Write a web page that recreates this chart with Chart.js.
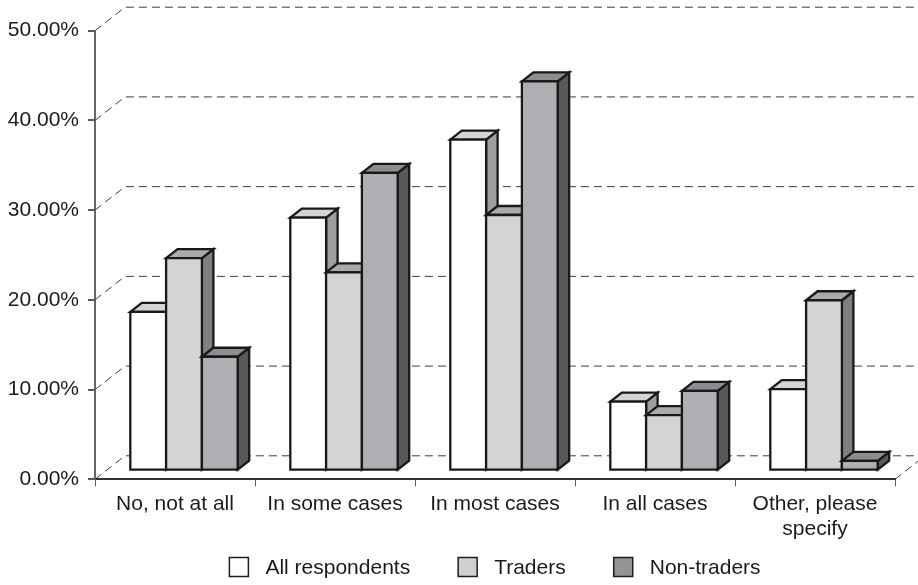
<!DOCTYPE html>
<html>
<head>
<meta charset="utf-8">
<script src="https://cdn.jsdelivr.net/npm/chart.js@4.4.1/dist/chart.umd.min.js"></script>
<style>
  html, body { margin: 0; padding: 0; background: #ffffff; }
  #wrap { width: 918px; height: 585px; }
</style>
</head>
<body>
<div id="wrap"><canvas id="chart" width="918" height="585"></canvas></div>
<script>
// Survey answers, share of respondents (%)
const categories = ['No, not at all', 'In some cases', 'In most cases', 'In all cases', ['Other, please', 'specify']];
const seriesNames = ['All respondents', 'Traders', 'Non-traders'];
const allRespondents = [17.7, 28.2, 36.9, 7.7, 9.1];
const traders = [23.7, 22.1, 28.5, 6.2, 19.0];
const nonTraders = [12.7, 33.2, 43.4, 8.9, 1.1];
const yTicks = [0, 10, 20, 30, 40, 50];

// Oblique projection offsets for the pseudo-3D look
const WALL = { dx: 30, dy: -23.5 };   // back wall relative to the front plane
const FRONT = { dx: 9, dy: -8.6 };    // bar front faces relative to the front plane
const DEPTH = { dx: 11.5, dy: -9 };   // bar thickness

const FONT = '"Liberation Sans", Arial, Helvetica, sans-serif';
const INK = '#1c1a1b';

// front / top / side shading per series, plus legend swatch
const faces = [
  { front: '#ffffff', top: '#d3d4d6', side: '#9d9ea1', swatch: '#ffffff' },
  { front: '#d3d4d6', top: '#a9aaad', side: '#7e7f82', swatch: '#cfd0d2' },
  { front: '#aeafb2', top: '#8c8d90', side: '#58595b', swatch: '#939497' }
];

function poly(ctx, pts, fill) {
  ctx.beginPath();
  ctx.moveTo(pts[0][0], pts[0][1]);
  for (let i = 1; i < pts.length; i++) ctx.lineTo(pts[i][0], pts[i][1]);
  ctx.closePath();
  ctx.fillStyle = fill;
  ctx.fill();
  ctx.stroke();
}

// Back wall grid + extruded bars, drawn in painter's order
const boxes3d = {
  id: 'boxes3d',
  beforeDatasetsDraw(chart) {
    const { ctx, chartArea: a, scales: { y } } = chart;
    ctx.save();
    ctx.strokeStyle = '#3c3c3c';
    ctx.lineWidth = 1;
    ctx.setLineDash([8, 5]);
    yTicks.forEach(v => {
      const py = y.getPixelForValue(v);
      ctx.beginPath();
      ctx.moveTo(a.left, py);
      ctx.lineTo(a.left + WALL.dx, py + WALL.dy);
      ctx.lineTo(chart.width, py + WALL.dy);
      ctx.stroke();
    });
    const p0 = y.getPixelForValue(0);
    ctx.beginPath();
    ctx.moveTo(a.right, p0);
    ctx.lineTo(a.right + WALL.dx, p0 + WALL.dy);
    ctx.stroke();
    ctx.setLineDash([]);

    ctx.lineWidth = 2.3;
    ctx.strokeStyle = '#1a1819';
    ctx.lineJoin = 'miter';
    const metas = chart.data.datasets.map((d, i) => chart.getDatasetMeta(i));
    for (let c = 0; c < categories.length; c++) {
      metas.forEach((m, d) => {
        const el = m.data[c];
        const L = el.x - el.width / 2 + FRONT.dx;
        const R = el.x + el.width / 2 + FRONT.dx;
        const T = el.y + FRONT.dy;
        const B = el.base + FRONT.dy;
        const f = faces[d];
        poly(ctx, [[R, T], [R + DEPTH.dx, T + DEPTH.dy], [R + DEPTH.dx, B + DEPTH.dy], [R, B]], f.side);
        poly(ctx, [[L, T], [L + DEPTH.dx, T + DEPTH.dy], [R + DEPTH.dx, T + DEPTH.dy], [R, T]], f.top);
        poly(ctx, [[L, T], [R, T], [R, B], [L, B]], f.front);
      });
    }
    ctx.restore();
    return false;
  }
};

// Single-row legend under the category labels
const legendRow = {
  id: 'legendRow',
  afterDraw(chart) {
    const { ctx, chartArea: a } = chart;
    ctx.save();
    ctx.font = '21px ' + FONT;
    const box = 19, gap = 17, spacing = 48, cy = 567;
    const widths = seriesNames.map(n => box + gap + ctx.measureText(n).width);
    const total = widths.reduce((s, w) => s + w, 0) + spacing * (widths.length - 1);
    let x = (a.left + a.right) / 2 - total / 2;
    seriesNames.forEach((n, i) => {
      ctx.fillStyle = faces[i].swatch;
      ctx.fillRect(x, cy - box / 2, box, box);
      ctx.strokeStyle = '#1e1c1d';
      ctx.lineWidth = 1.5;
      ctx.strokeRect(x, cy - box / 2, box, box);
      ctx.fillStyle = INK;
      ctx.textBaseline = 'middle';
      ctx.textAlign = 'left';
      ctx.fillText(n, x + box + gap, cy + 1);
      x += widths[i] + spacing;
    });
    ctx.restore();
  }
};

Chart.defaults.font.family = FONT;
Chart.defaults.font.size = 21;
Chart.defaults.color = INK;

new Chart(document.getElementById('chart'), {
  type: 'bar',
  data: {
    labels: categories,
    datasets: [
      { label: seriesNames[0], data: allRespondents, backgroundColor: faces[0].front },
      { label: seriesNames[1], data: traders, backgroundColor: faces[1].front },
      { label: seriesNames[2], data: nonTraders, backgroundColor: faces[2].front }
    ]
  },
  options: {
    responsive: false,
    animation: false,
    devicePixelRatio: 1,
    layout: { padding: { top: 30.7, right: 23, left: 0, bottom: 0 } },
    plugins: { legend: { display: false }, tooltip: { enabled: false } },
    datasets: { bar: { barPercentage: 1, categoryPercentage: 0.671 } },
    scales: {
      x: {
        offset: true,
        grid: { offset: true, drawOnChartArea: false, drawTicks: true, tickLength: 7, color: '#555555', lineWidth: 1 },
        border: { display: true, color: '#333333', width: 2 },
        ticks: { padding: 5, font: { size: 21, lineHeight: 1.2 }, color: INK, maxRotation: 0, autoSkip: false },
        afterFit: s => { s.height = 105.7; }
      },
      y: {
        min: 0,
        max: 50,
        grid: { drawOnChartArea: false, drawTicks: true, tickLength: 7, color: '#5a5a5a', lineWidth: 2 },
        border: { display: true, color: '#666666', width: 2 },
        ticks: { padding: 9, color: INK, font: { size: 21 }, callback: v => v.toFixed(2) + '%' },
        afterBuildTicks: s => { s.ticks = yTicks.map(v => ({ value: v })); },
        afterFit: s => { s.width = 95; }
      }
    }
  },
  plugins: [boxes3d, legendRow]
});
</script>
</body>
</html>
